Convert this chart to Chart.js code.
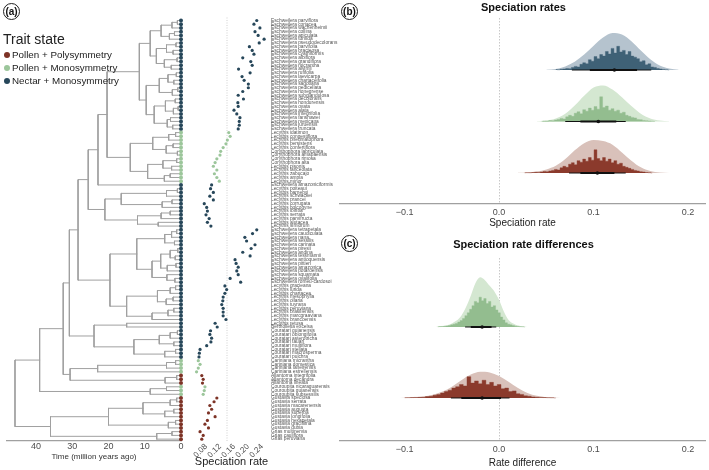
<!DOCTYPE html>
<html>
<head>
<meta charset="utf-8">
<title>Speciation rates</title>
<script src="https://cdn.jsdelivr.net/npm/chart.js@4.4.1/dist/chart.umd.min.js"></script>
<style>
  body { margin: 0; width: 709px; height: 470px; position: relative; overflow: hidden; background: #fff; font-family: "Liberation Sans", Arial, sans-serif; }
  canvas { position: absolute; }
  .tag { position: absolute; width: 15px; height: 15px; border: 1px solid #222; border-radius: 50%; font-weight: bold; font-size: 10px; line-height: 15px; text-align: center; color: #111; }
  .ttl { position: absolute; left: 3px; top: 31px; font-size: 14px; line-height: 16px; color: #222; }
  .item { position: absolute; left: 4px; font-size: 9.8px; line-height: 12px; color: #222; white-space: nowrap; }
  .dot { display: inline-block; width: 6px; height: 6px; border-radius: 50%; margin-right: 2px; }
</style>
</head>
<body>
<canvas id="tree" width="190" height="470" style="left:0;top:0"></canvas>
<canvas id="rates" width="160" height="470" style="left:185px;top:0"></canvas>
<canvas id="spec" width="373" height="230" style="left:336px;top:0"></canvas>
<canvas id="diff" width="373" height="238" style="left:336px;top:232px"></canvas>
<div class="tag" style="left:3px;top:3px">(a)</div>
<div class="tag" style="left:341px;top:3px">(b)</div>
<div class="tag" style="left:341px;top:235px">(c)</div>
<div class="ttl">Trait state</div>
<div id="legend"></div>
<script>
// trait states: 0 = Pollen + Polysymmetry, 1 = Pollen + Monosymmetry, 2 = Nectar + Monosymmetry
const traitLabels = ['Pollen + Polysymmetry', 'Pollen + Monosymmetry', 'Nectar + Monosymmetry'];
const traitColors = ['#7d3326', '#9cc69b', '#27475a'];

// tips top to bottom
const tipNames = [
  'Eschweilera parviflora','Eschweilera coriacea','Eschweilera wachenheimii','Eschweilera collina','Eschweilera apiculata',
  'Eschweilera tumida','Eschweilera pseudodecolorans','Eschweilera parvifolia','Eschweilera bracteosa','Eschweilera cyathiformis',
  'Eschweilera albiflora','Eschweilera grandiflora','Eschweilera micrantha','Eschweilera alvimii','Eschweilera rufifolia',
  'Eschweilera laevicarpa','Eschweilera chartaceifolia','Eschweilera sagotiana','Eschweilera pedicellata','Eschweilera rionegrense',
  'Eschweilera subglandulosa','Eschweilera decolorans','Eschweilera hondurensis','Eschweilera ovata','Eschweilera alata',
  'Eschweilera integrifolia','Eschweilera fanshawei','Eschweilera mexicana','Eschweilera juruensis','Eschweilera truncata',
  'Lecythis idatimon','Lecythis congestiflora','Lecythis pneumatophora','Lecythis persistens','Lecythis confertiflora',
  'Corythophora labriculata','Corythophora amapaensis','Corythophora rimosa','Corythophora alta','Lecythis pisonis',
  'Lecythis lanceolata','Lecythis zabucajo','Lecythis ampla','Lecythis minor',
  'Eschweilera amazoniciformis',
  'Lecythis poiteaui','Lecythis barnebyi','Lecythis schwackei','Lecythis prancei','Lecythis corrugata','Lecythis holcogyne',
  'Lecythis ibiriba','Lecythis serrata','Lecythis parvifructa','Lecythis alutacea','Lecythis simiorum',
  'Eschweilera tetrapetala','Eschweilera caudiculata','Eschweilera nana','Eschweilera sessilis','Eschweilera carinata',
  'Eschweilera piresii','Eschweilera andina','Eschweilera tessmannii','Eschweilera antioquensis','Eschweilera pittieri',
  'Eschweilera amazonica','Eschweilera potaroensis','Eschweilera squamata','Eschweilera ovalifolia','Eschweilera romeu-cardosoi',
  'Lecythis gracieana','Lecythis lurida','Lecythis chartacea','Lecythis mesophylla','Lecythis ollaria',
  'Lecythis tuyrana','Lecythis peruviana','Lecythis brasiliensis','Lecythis marcgraaviana','Lecythis brancoensis',
  'Lecythis retusa','Bertholletia excelsa',
  'Couratari guianensis','Couratari oblongifolia','Couratari asterotricha','Couratari tauari','Couratari multiflora',
  'Couratari stellata','Couratari macrosperma','Couratari pulchra',
  'Cariniana micrantha','Cariniana domestica','Cariniana ianeirensis','Cariniana estrellensis',
  'Allantoma integrifolia','Allantoma decandra','Allantoma lineata',
  'Couroupita nicaraguarensis','Couroupita guianensis','Couroupita subsessilis',
  'Gustavia speciosa','Gustavia serrata','Gustavia macarenensis','Gustavia augusta','Gustavia superba',
  'Gustavia longifolia','Gustavia hexapetala','Gustavia gracillima','Gustavia dubia',
  'Grias multinervia','Grias cauliflora','Grias peruviana'
];

// [state, number of consecutive tips]
const stateRuns = [[2, 30], [1, 14], [2, 47], [1, 4], [0, 3], [1, 3], [0, 12]];

const tipRates = [
  .225,.217,.234,.220,.229,.246,.232,.204,.212,.217,.185,.208,.212,.173,.206,.183,.189,.201,.201,.185,
  .172,.187,.171,.172,.160,.168,.177,.175,.175,.172,
  .145,.149,.141,.137,.129,.122,.120,.111,.106,.101,.111,.104,.111,.118,
  .096,.093,.101,.091,.101,.075,.082,.084,.080,.089,.084,.094,
  .225,.213,.191,.196,.220,.209,.185,.206,.163,.166,.172,.168,.172,.149,.179,
  .134,.139,.134,.129,.128,.125,.129,.129,.129,.137,
  .106,.112,
  .093,.091,.096,.094,.082,.063,.061,.060,
  .058,.063,.058,.053,
  .068,.072,.070,
  .077,.075,.072,
  .111,.103,.091,.096,.087,.106,.084,.077,.087,
  .063,.072,.068
];
const refRate = 0.14;

// tree clades, "*" = tip, number after ")" = node age (Myr)
const cladeE1 = '(((((*,*)1.0,*)2.5,((*,*)1.8,*)3.2)5.5,(((*,*)1.4,(*,*)2.2)4.0,((*,*)1.1,(*,*)2.7)4.6)6.8)8.5,((((*,*)1.3,(*,*)2.0)3.6,((*,*)0.9,*)2.4)6.0,(((*,*)1.6,((*,*)0.8,*)2.1)4.3,((*,*)2.9,(*,*)2.3)3.8)7.4)9.6)11.5';
const cladeG  = '((((*,*)1.5,*)3.4,((*,*)2.2,(*,*)1.0)4.1)7.8,(((*,*)1.2,(*,*)2.6)5.0,((*,*)3.0,*)4.6)9.2)14.0';
const cladeL1 = '((((*,*)1.0,*)4.0,((*,*)2.5,*)5.2)16.5,(((*,*)3.0,*)5.5,(*,*)6.3)12.0)21.0';
const cladeE2 = '((((*,*)1.2,*)2.6,(*,*)1.8)4.5,((((*,*)0.9,(*,*)1.6)3.0,((*,*)1.4,*)3.8)5.6,(*,(*,*)1.7)3.9)8.0)12.2';
const cladeL2 = '((((*,*)1.5,*)3.0,((*,*)2.2,*)4.1)6.5,(((*,*)2.0,*)3.6,*)8.0)15.0';
const cladeBL = '(*,*)15.0';
const cladeCT = '((((*,*)1.0,*)3.0,(*,*)2.0)6.0,((*,*)1.5,*)4.5)13.0';
const cladeCA = '(((*,*)1.5,*)4.0,*)23.0';
const cladeAL = '((*,*)1.2,*)4.4';
const cladeCP = '((*,*)4.0,*)8.5';
const cladeGU = '((((*,*)1.2,*)3.0,((*,*)2.0,*)4.5)10.5,((*,*)1.5,*)3.5)20.0';
const cladeGR = '((*,*)2.5,*)6.7';
const treeString = `((((((((${cladeE1},${cladeG})20.4,*)22.9,${cladeL1})25.6,(${cladeE2},${cladeL2})19.6)28.4,(${cladeBL},${cladeCT})24.0)30.8,(${cladeCA},${cladeAL})30.6)32.5,${cladeCP})39.0,(${cladeGU},${cladeGR})36.0)45.8`;
const timeTicks = [0, 10, 20, 30, 40];
const rateTicks = [0.08, 0.12, 0.16, 0.20, 0.24];

// panel b: ridges 1 = Pollen+Poly, 2 = Pollen+Mono, 3 = Nectar+Mono ; [rate, density]
const specDensBlue = [[0.050,0.004],[0.060,0.02],[0.070,0.07],[0.080,0.16],[0.090,0.30],[0.100,0.47],[0.110,0.63],[0.120,0.72],[0.130,0.69],[0.140,0.56],[0.150,0.38],[0.160,0.21],[0.170,0.09],[0.180,0.03],[0.190,0.005]];
const specDensGreen = [[0.040,0.005],[0.050,0.02],[0.060,0.06],[0.070,0.15],[0.080,0.31],[0.090,0.50],[0.100,0.66],[0.110,0.70],[0.120,0.62],[0.130,0.47],[0.140,0.30],[0.150,0.15],[0.160,0.06],[0.170,0.02],[0.180,0.003]];
const specDensRed = [[0.020,0.003],[0.030,0.01],[0.040,0.03],[0.050,0.07],[0.060,0.14],[0.070,0.27],[0.080,0.44],[0.090,0.58],[0.100,0.64],[0.110,0.62],[0.120,0.55],[0.130,0.40],[0.140,0.24],[0.150,0.11],[0.160,0.04],[0.170,0.01],[0.180,0.002]];
const specHistBlue = [[0.060,.010],[0.063,.005],[0.066,.015],[0.069,.020],[0.072,.030],[0.075,.025],[0.078,.050],[0.081,.070],[0.084,.060],[0.087,.110],[0.090,.140],[0.093,.120],[0.096,.200],[0.099,.170],[0.102,.260],[0.105,.220],[0.108,.300],[0.111,.270],[0.114,.360],[0.117,.310],[0.120,.420],[0.123,.330],[0.126,.460],[0.129,.350],[0.132,.380],[0.135,.300],[0.138,.360],[0.141,.270],[0.144,.250],[0.147,.220],[0.150,.160],[0.153,.180],[0.156,.100],[0.159,.120],[0.162,.060],[0.165,.050],[0.168,.030],[0.171,.020],[0.174,.012],[0.177,.006],[0.180,0]];
const specHistGreen = [[0.045,.005],[0.048,.010],[0.051,.008],[0.054,.020],[0.057,.015],[0.060,.030],[0.063,.040],[0.066,.060],[0.069,.050],[0.072,.090],[0.075,.120],[0.078,.100],[0.081,.160],[0.084,.190],[0.087,.150],[0.090,.230],[0.093,.200],[0.096,.260],[0.099,.220],[0.102,.290],[0.105,.240],[0.108,.480],[0.111,.270],[0.114,.300],[0.117,.220],[0.120,.250],[0.123,.200],[0.126,.220],[0.129,.160],[0.132,.180],[0.135,.120],[0.138,.100],[0.141,.080],[0.144,.070],[0.147,.040],[0.150,.035],[0.153,.020],[0.156,.015],[0.159,.010],[0.162,.005],[0.165,0]];
const specHistRed = [[0.027,.004],[0.030,.006],[0.033,.005],[0.036,.010],[0.039,.015],[0.042,.012],[0.045,.020],[0.048,.030],[0.051,.025],[0.054,.040],[0.057,.050],[0.060,.070],[0.063,.060],[0.066,.100],[0.069,.130],[0.072,.110],[0.075,.170],[0.078,.200],[0.081,.160],[0.084,.240],[0.087,.210],[0.090,.270],[0.093,.230],[0.096,.300],[0.099,.250],[0.102,.450],[0.105,.280],[0.108,.240],[0.111,.300],[0.114,.230],[0.117,.270],[0.120,.200],[0.123,.240],[0.126,.170],[0.129,.190],[0.132,.130],[0.135,.110],[0.138,.090],[0.141,.070],[0.144,.050],[0.147,.040],[0.150,.025],[0.153,.020],[0.156,.010],[0.159,.006],[0.162,0]];
// [red, green, blue] medians and intervals
const specMedian = [0.104, 0.105, 0.122];
const specCI95 = [[0.074, 0.134], [0.070, 0.134], [0.077, 0.161]];
const specCI66 = [[0.086, 0.122], [0.086, 0.124], [0.096, 0.146]];

// panel c: ridges 1 = Pollen+Poly minus Nectar+Mono, 2 = Pollen+Mono minus Nectar+Mono
const diffDensGreen = [[-0.070,0],[-0.065,0.005],[-0.060,0.01],[-0.055,0.025],[-0.050,0.05],[-0.045,0.09],[-0.040,0.16],[-0.035,0.28],[-0.030,0.44],[-0.025,0.62],[-0.020,0.70],[-0.015,0.66],[-0.010,0.58],[-0.005,0.50],[0.000,0.38],[0.005,0.22],[0.010,0.10],[0.015,0.05],[0.020,0.02],[0.025,0.008],[0.030,0]];
const diffDensRed = [[-0.110,0],[-0.100,0.004],[-0.090,0.01],[-0.080,0.02],[-0.070,0.045],[-0.060,0.09],[-0.050,0.16],[-0.040,0.25],[-0.030,0.33],[-0.020,0.37],[-0.010,0.36],[0.000,0.31],[0.010,0.23],[0.020,0.14],[0.030,0.07],[0.040,0.03],[0.050,0.012],[0.060,0.004],[0.070,0]];
const diffHistGreen = [[-0.0650,.004],[-0.0625,.006],[-0.0600,.008],[-0.0575,.012],[-0.0550,.015],[-0.0525,.020],[-0.0500,.030],[-0.0475,.040],[-0.0450,.050],[-0.0425,.070],[-0.0400,.090],[-0.0375,.120],[-0.0350,.160],[-0.0325,.200],[-0.0300,.250],[-0.0275,.300],[-0.0250,.360],[-0.0225,.340],[-0.0200,.420],[-0.0175,.370],[-0.0150,.400],[-0.0125,.330],[-0.0100,.360],[-0.0075,.280],[-0.0050,.300],[-0.0025,.240],[0.0000,.200],[0.0025,.140],[0.0050,.100],[0.0075,.060],[0.0100,.040],[0.0125,.030],[0.0150,.020],[0.0175,.012],[0.0200,.008],[0.0225,.005],[0.0250,.003],[0.0275,0]];
const diffHistRed = [[-0.100,.004],[-0.096,.005],[-0.092,.006],[-0.088,.008],[-0.084,.010],[-0.080,.012],[-0.076,.020],[-0.072,.025],[-0.068,.040],[-0.064,.050],[-0.060,.070],[-0.056,.090],[-0.052,.110],[-0.048,.140],[-0.044,.160],[-0.040,.190],[-0.036,.170],[-0.032,.300],[-0.028,.210],[-0.024,.240],[-0.020,.200],[-0.016,.250],[-0.012,.190],[-0.008,.220],[-0.004,.170],[0.000,.190],[0.004,.130],[0.008,.140],[0.012,.090],[0.016,.100],[0.020,.060],[0.024,.050],[0.028,.030],[0.032,.025],[0.036,.015],[0.040,.010],[0.044,.008],[0.048,.006],[0.052,.004],[0.056,.003],[0.060,0]];
const diffMedian = [-0.018, -0.018];
const diffCI95 = [[-0.051, 0.011], [-0.036, -0.003]];
const diffCI66 = [[-0.040, 0.002], [-0.030, -0.008]];
const panelTicks = [-0.1, 0, 0.1, 0.2];

const ridgeFill = ['#d9c1ba', '#d4e7d1', '#b5c3ce'];
const ridgeDark = ['#8b3a2c', '#93bd8f', '#3f6176'];

Chart.defaults.font.family = '"Liberation Sans", Arial, sans-serif';
Chart.defaults.color = '#4d4d4d';
Chart.defaults.animation = false;
Chart.defaults.responsive = false;
Chart.defaults.plugins.legend.display = false;
Chart.defaults.plugins.tooltip.enabled = false;

// legend
const leg = document.getElementById('legend');
traitLabels.forEach((t, i) => {
  const d = document.createElement('div');
  d.className = 'item';
  d.style.top = (49 + i * 13) + 'px';
  d.innerHTML = '<span class="dot" style="background:' + traitColors[i] + '"></span>' + t;
  leg.appendChild(d);
});

const tipState = [];
stateRuns.forEach(([s, n]) => { for (let k = 0; k < n; k++) tipState.push(s); });
const tipColors = tipState.map(s => traitColors[s]);

function parseTree(str) {
  const s = str.replace(/\s+/g, '');
  let pos = 0, tip = 0;
  function node() {
    if (s[pos] === '*') { pos++; return { tip: tip++, age: 0 }; }
    pos++;
    const kids = [node()];
    while (s[pos] === ',') { pos++; kids.push(node()); }
    pos++;
    const m = s.slice(pos).match(/^[0-9.]+/);
    pos += m[0].length;
    return { age: parseFloat(m[0]), kids };
  }
  return node();
}
function setY(n) {
  if (!n.kids) { n.y = n.tip; return n.y; }
  n.kids.forEach(setY);
  n.y = (n.kids[0].y + n.kids[n.kids.length - 1].y) / 2;
  return n.y;
}
const root = parseTree(treeString);
setY(root);
const treeSegs = [];
(function walk(n) {
  if (!n.kids) return;
  treeSegs.push({ x: n.age, y: n.kids[0].y }, { x: n.age, y: n.kids[n.kids.length - 1].y }, { x: null, y: null });
  n.kids.forEach(k => {
    treeSegs.push({ x: n.age, y: k.y }, { x: k.age, y: k.y }, { x: null, y: null });
    walk(k);
  });
})(root);

new Chart(document.getElementById('tree'), {
  type: 'scatter',
  data: { datasets: [
    { type: 'line', data: treeSegs, borderColor: '#a0a0a0', borderWidth: 1, pointRadius: 0, spanGaps: false, tension: 0, borderCapStyle: 'square', order: 2 },
    { data: tipNames.map((n, i) => ({ x: 0, y: i })), pointRadius: 2, pointBorderWidth: 0, backgroundColor: tipColors, order: 1, clip: false }
  ]},
  options: {
    layout: { padding: { left: 7, right: 9, top: 16, bottom: 0 } },
    scales: {
      x: {
        type: 'linear', reverse: true, min: 0, max: 48,
        afterBuildTicks: s => { s.ticks = timeTicks.map(v => ({ value: v })); },
        afterFit: s => { s.height = 29; },
        grid: { display: false, drawTicks: false },
        border: { display: true, color: '#a0a0a0', width: 1.2 },
        ticks: { font: { size: 9 }, padding: 0.5, maxRotation: 0 },
        title: { display: true, text: 'Time (million years ago)', font: { size: 8 }, color: '#333', padding: { top: 0, bottom: 8.2 } }
      },
      y: { type: 'linear', reverse: true, min: -1.2, max: 112.5, display: false }
    }
  }
});

new Chart(document.getElementById('rates'), {
  type: 'scatter',
  data: { datasets: [
    { data: tipRates.map((r, i) => ({ x: r, y: i })), pointRadius: 1.6, pointBorderWidth: 0, backgroundColor: tipColors, order: 1 },
    { type: 'line', data: [{ x: refRate, y: -0.8 }, { x: refRate, y: 112.5 }], borderColor: '#c4c4c4', borderWidth: 0.8, borderDash: [1, 1.5], pointRadius: 0, order: 2 }
  ]},
  options: {
    layout: { padding: { left: 9, right: 0, top: 16, bottom: 0 } },
    scales: {
      x: {
        type: 'linear', min: 0.0457, max: 0.26,
        afterBuildTicks: s => { s.ticks = rateTicks.map(v => ({ value: v })); },
        afterFit: s => { s.height = 29; },
        grid: { display: false, drawTicks: false },
        border: { display: false },
        ticks: { font: { size: 8 }, minRotation: 45, maxRotation: 45, autoSkip: false, padding: 1, callback: v => v.toFixed(2) },
        title: { display: true, text: 'Speciation rate', font: { size: 11 }, color: '#222', padding: { top: 0, bottom: 1.4 } }
      },
      y: {
        type: 'linear', position: 'right', reverse: true, min: -1.2, max: 112.5,
        afterBuildTicks: s => { s.ticks = tipNames.map((n, i) => ({ value: i })); },
        afterFit: s => { s.width = 76; },
        grid: { display: false, drawTicks: false },
        border: { display: false },
        ticks: { autoSkip: false, font: { size: 4.8 }, color: '#555', padding: 2, callback: v => tipNames[v] || '' }
      }
    }
  }
});

function ridgeDatasets(dens, hist, med, ci95, ci66, colorIdx) {
  const sets = [];
  dens.forEach((d, k) => {
    const base = k + 1, c = colorIdx[k];
    sets.push({ type: 'line', data: d.map(p => ({ x: p[0], y: base + p[1] })), fill: { value: base }, backgroundColor: ridgeFill[c], borderWidth: 0, pointRadius: 0, cubicInterpolationMode: 'monotone', order: 5 });
    sets.push({ type: 'line', data: hist[k].map(p => ({ x: p[0], y: base + p[1] })), stepped: 'middle', fill: { value: base }, backgroundColor: ridgeDark[c], borderColor: ridgeDark[c], borderWidth: 0.4, pointRadius: 0, order: 4 });
    sets.push({ type: 'line', data: [{ x: ci95[k][0], y: base }, { x: ci95[k][1], y: base }], borderColor: '#111', borderWidth: 1, pointRadius: 0, order: 3 });
    sets.push({ type: 'line', data: [{ x: ci66[k][0], y: base }, { x: ci66[k][1], y: base }], borderColor: '#111', borderWidth: 2, pointRadius: 0, order: 2 });
    sets.push({ data: [{ x: med[k], y: base }], pointRadius: 1.8, backgroundColor: '#111', pointBorderWidth: 0, order: 1 });
  });
  return sets;
}

function panelOptions(title, xTitle, ymin, ymax, tpad, xh) {
  return {
    layout: { padding: { left: 4, right: 2, top: 0, bottom: 0 } },
    plugins: { title: { display: true, text: title, font: { size: 11, weight: 'bold' }, color: '#111', padding: tpad } },
    scales: {
      x: {
        type: 'linear', min: -0.1684, max: 0.2179,
        afterBuildTicks: s => { s.ticks = panelTicks.map(v => ({ value: v })); },
        afterFit: s => { s.height = xh; },
        grid: { drawTicks: false, lineWidth: 1, color: c => (c.tick && c.tick.value === 0) ? '#c8c8c8' : 'rgba(0,0,0,0)' },
        border: { display: true, color: '#a0a0a0', width: 1.2, dash: [1.5, 1.5] },
        ticks: { font: { size: 9 }, padding: 3.5, maxRotation: 0, callback: v => v === 0 ? '0.0' : (v < 0 ? '\u2212' : '') + Math.abs(v).toFixed(1) },
        title: { display: true, text: xTitle, font: { size: 10 }, color: '#222', padding: { top: 0, bottom: 1 } }
      },
      y: { type: 'linear', min: ymin, max: ymax, display: false }
    }
  };
}

new Chart(document.getElementById('spec'), {
  type: 'scatter',
  data: { datasets: ridgeDatasets([specDensRed, specDensGreen, specDensBlue], [specHistRed, specHistGreen, specHistBlue], specMedian, specCI95, specCI66, [0, 1, 2]) },
  options: panelOptions('Speciation rates', 'Speciation rate', 0.398, 4.01, { top: 1.3, bottom: 3.5 }, 26)
});

new Chart(document.getElementById('diff'), {
  type: 'scatter',
  data: { datasets: ridgeDatasets([diffDensRed, diffDensGreen], [diffHistRed, diffHistGreen], diffMedian, diffCI95, diffCI66, [0, 1]) },
  options: panelOptions('Speciation rate differences', 'Rate difference', 0.394, 2.972, { top: 6.4, bottom: 6.4 }, 29)
});
</script>
</body>
</html>
